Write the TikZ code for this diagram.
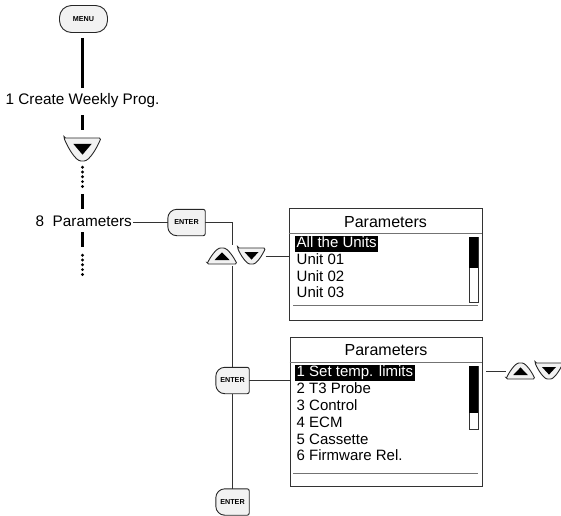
\documentclass[tikz,border=0pt]{standalone}
\usepackage{fontspec}
\setmainfont{Liberation Sans}
\usetikzlibrary{calc}
\tikzset{
  conn/.style={draw=black!80, line width=0.9pt},
  heavy/.style={draw=black, line width=3.8pt},
  dotline/.style={draw=black, line width=3.2pt, line cap=round, dash pattern=on 0pt off 4.8pt},
  lbl/.style={inner sep=0pt, font=\fontsize{15.3}{15.3}\selectfont, text height=11pt, text depth=3pt},
  spot/.style={draw=none, inner sep=0pt},
  btnline/.style={draw=black!85, line width=0.9pt, fill=black!5},
  btntext/.style={font=\bfseries\fontsize{7.2}{8}\selectfont},
  menubtn/.style={draw=black!85, line width=0.9pt, fill=black!5, rounded corners=12pt, minimum width=48pt, minimum height=27pt, inner sep=0pt, btntext},
  screen/.style={draw=black!80, line width=0.9pt, inner sep=0pt},
  sep/.style={draw=black!55, line width=0.9pt},
  title/.style={inner sep=0pt, font=\fontsize{16}{16}\selectfont},
  item/.style={anchor=west, inner xsep=1.5pt, inner ysep=1pt, text height=10.8pt, text depth=3pt, font=\fontsize{15}{15}\selectfont},
  hl/.style={item, fill=black, text=white},
  tribtn/.pic={
    \draw[btnline, rounded corners=1.5pt] (-1,-1) -- (1,-1) .. controls (0.8,-0.2) and (0.38,1) .. (0,1) .. controls (-0.38,1) and (-0.8,-0.2) .. (-1,-1) -- cycle;
    \fill[black] (-0.5,-0.5) -- (0.5,-0.5) -- (0,0.45) -- cycle;
  }
}
\newcommand\mkenter[4]{% name, x, y, width
  \node[spot, minimum width=#4pt, minimum height=26pt, btntext] (#1) at (#2,#3) {ENTER};
  \draw[btnline] (#1.north) [rounded corners=9pt] -- (#1.north west) -- (#1.south west) -- (#1.south) [rounded corners=2pt] -- (#1.south east) -- (#1.north east) -- cycle;
  \node[btntext] at (#1) {ENTER};
}
\begin{document}
\begin{tikzpicture}[x=1pt, y=-1pt]
\useasboundingbox (0,0) rectangle (561,515);

% left column
\node[menubtn] (menu) at (83.5,19) {MENU};
\node[lbl] (l1) at (82.5,100) {1 Create Weekly Prog.};
\node[spot, minimum width=37pt, minimum height=23pt] (dn0) at (82.5,149.5) {};
\pic[xscale=18.5, yscale=11.5] at (dn0) {tribtn};
\node[lbl, anchor=east] (l8) at (132,222) {8\ \ Parameters};

\draw[heavy, shorten <=5pt, shorten >=5pt] (menu.south -| l1.north) -- (l1.north);
\draw[heavy, shorten <=8pt, shorten >=8pt] (l1.south) -- (dn0.north);
\coordinate (d0) at ($(dn0.south)+(0,6)$);
\draw[dotline] (d0) -- ++(0,20);
\coordinate (p8) at (l8.north -| dn0.south);
\draw[heavy] ($(p8)+(0,-21)$) -- ($(p8)+(0,-6)$);
\coordinate (q8) at (l8.south -| dn0.south);
\draw[heavy] ($(q8)+(0,3)$) -- ($(q8)+(0,18)$);
\draw[dotline] ($(q8)+(0,26)$) -- ++(0,20);

% enter buttons
\mkenter{e1}{186.5}{222.5}{37}
\mkenter{e2}{232.5}{380.5}{33}
\mkenter{e3}{232.5}{502}{33}

% arrow pair 1
\node[spot, minimum width=30pt, minimum height=16pt] (up1) at (222,256) {};
\pic[xscale=15, yscale=-8] at (up1) {tribtn};
\node[spot, minimum width=28pt, minimum height=16pt] (dn1) at (251.5,256) {};
\pic[xscale=14, yscale=8] at (dn1) {tribtn};

% screens
\node[screen, minimum width=193pt, minimum height=112pt] (box1) at (385.5,264) {};
\node[screen, minimum width=192pt, minimum height=149pt] (box2) at (386,411.5) {};

% arrow pair 2
\node[spot, minimum width=29pt, minimum height=16pt] (up2) at (520.5,371) {};
\pic[xscale=14.5, yscale=-8] at (up2) {tribtn};
\node[spot, minimum width=28pt, minimum height=16pt] (dn2) at (549,371) {};
\pic[xscale=14, yscale=8] at (dn2) {tribtn};

% connectors
\draw[conn, shorten <=1pt] (l8.east |- e1.west) -- (e1.west);
\coordinate (j1) at (e2.north |- up1.north);
\draw[conn] (e1.east) -| ($(j1)+(0,-3)$);
\draw[conn] ($(j1)+(0,18)$) -- (e2.north);
\draw[conn] (e2.south) -- (e3.north);
\draw[conn] (dn1.east) -- (dn1.east -| box1.west);
\draw[conn] (e2.east) -- (e2.east -| box2.west);
\draw[conn, shorten <=4pt] (up2.west -| box2.east) -- (up2.west);

% screen 1 content
\node[title] (t1) at (385.5,222) {Parameters};
\draw[sep] (box1.west |- 0,233) -- (box1.east |- 0,233);
\node[hl] (a1) at (295,244) {All the Units};
\node[item] (a2) at (295,260.7) {Unit 01};
\node[item] (a3) at (295,277.4) {Unit 02};
\node[item] (a4) at (295,294) {Unit 03};
\draw[draw=black!80, line width=0.8pt] (469,237) rectangle (478,302);
\fill[black] (469,237) rectangle (478,268);
\draw[sep] (293,305) -- (478,305);

% screen 2 content
\node[title] (t2) at (386,350) {Parameters};
\draw[sep] (box2.west |- 0,362) -- (box2.east |- 0,362);
\node[hl] (b1) at (295,373) {1 Set temp. limits};
\node[item] (b2) at (295,389.8) {2 T3 Probe};
\node[item] (b3) at (295,406.6) {3 Control};
\node[item] (b4) at (295,423.4) {4 ECM};
\node[item] (b5) at (295,440.2) {5 Cassette};
\node[item] (b6) at (295,457) {6 Firmware Rel.};
\draw[draw=black!80, line width=0.8pt] (469,366) rectangle (478,429);
\fill[black] (469,366) rectangle (478,413);
\draw[sep] (293,473) -- (478,473);
\end{tikzpicture}
\end{document}
